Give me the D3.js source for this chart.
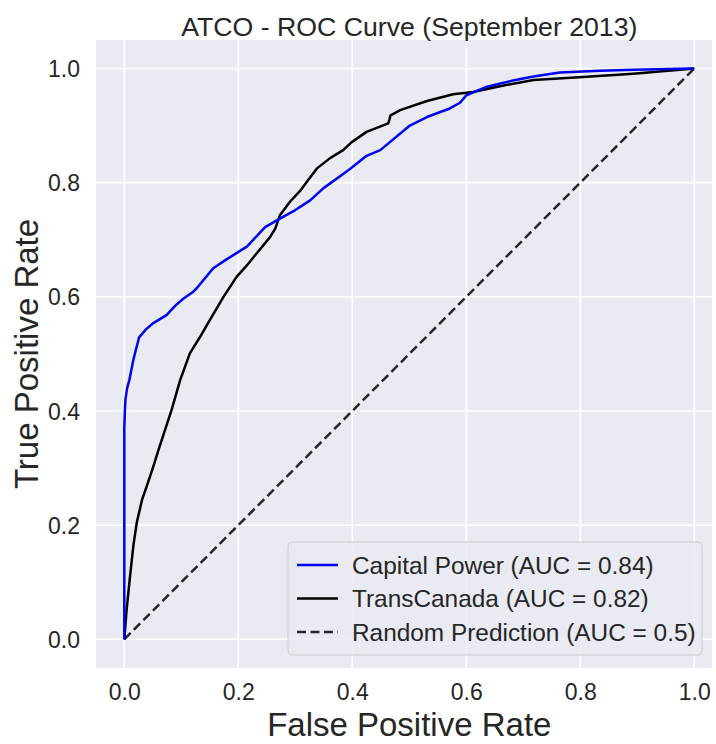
<!DOCTYPE html>
<html>
<head>
<meta charset="utf-8">
<script src="https://cdn.jsdelivr.net/npm/d3@7"></script>
<style>
  body { margin: 0; background: #fff; }
  text { font-family: "Liberation Sans", Arial, sans-serif; fill: #262626; }
</style>
</head>
<body>
<div class="chart"></div>
<script>
// ROC curve data
var capFpr = [0, 0, 0.001, 0.002, 0.005, 0.009, 0.013, 0.016, 0.021, 0.026, 0.038, 0.051, 0.074, 0.09, 0.104, 0.121, 0.127, 0.156, 0.18, 0.215, 0.247, 0.273, 0.3, 0.326, 0.349, 0.396, 0.425, 0.449, 0.466, 0.501, 0.531, 0.571, 0.589, 0.6, 0.636, 0.682, 0.718, 0.764, 0.835, 0.893, 1.0];
var capTpr = [0, 0.37, 0.40, 0.42, 0.44, 0.455, 0.475, 0.49, 0.51, 0.529, 0.543, 0.554, 0.568, 0.585, 0.597, 0.609, 0.615, 0.65, 0.666, 0.688, 0.722, 0.737, 0.752, 0.769, 0.79, 0.824, 0.847, 0.857, 0.871, 0.9, 0.915, 0.93, 0.94, 0.953, 0.968, 0.979, 0.986, 0.993, 0.996, 0.998, 1.0];

var tcFpr = [0, 0.004, 0.01, 0.016, 0.022, 0.031, 0.04, 0.05, 0.06, 0.083, 0.098, 0.115, 0.133, 0.15, 0.174, 0.197, 0.215, 0.232, 0.256, 0.265, 0.273, 0.291, 0.308, 0.32, 0.338, 0.361, 0.384, 0.399, 0.425, 0.463, 0.465, 0.467, 0.484, 0.531, 0.577, 0.612, 0.659, 0.718, 0.805, 0.893, 1.0];
var tcTpr = [0, 0.051, 0.11, 0.165, 0.205, 0.244, 0.27, 0.30, 0.332, 0.402, 0.454, 0.501, 0.53, 0.559, 0.6, 0.635, 0.655, 0.676, 0.705, 0.72, 0.743, 0.767, 0.785, 0.801, 0.825, 0.843, 0.857, 0.871, 0.889, 0.904, 0.91, 0.918, 0.927, 0.943, 0.955, 0.959, 0.969, 0.98, 0.985, 0.991, 1.0];

var randFpr = [0, 1];
var randTpr = [0, 1];

var tickValues = [0, 0.2, 0.4, 0.6, 0.8, 1.0];
var legendLabels = ["Capital Power (AUC = 0.84)", "TransCanada (AUC = 0.82)", "Random Prediction (AUC = 0.5)"];

var svgWidth = 716;
var svgHeight = 744;

// plot area (axes box) in pixels
var plot = { left: 96, right: 712, top: 40, bottom: 668 };

var svg = d3.select(".chart").append("svg")
  .attr("width", svgWidth)
  .attr("height", svgHeight);

var xScale = d3.scaleLinear().domain([0, 1]).range([124.3, 694.3]);
var yScale = d3.scaleLinear().domain([0, 1]).range([639.3, 68.5]);

// background
svg.append("rect")
  .attr("x", plot.left)
  .attr("y", plot.top)
  .attr("width", plot.right - plot.left)
  .attr("height", plot.bottom - plot.top)
  .attr("fill", "#eaeaf2");

// grid lines
svg.append("g").selectAll("line")
  .data(tickValues)
  .enter()
  .append("line")
  .attr("x1", d => xScale(d)).attr("x2", d => xScale(d))
  .attr("y1", plot.top).attr("y2", plot.bottom)
  .attr("stroke", "#fff").attr("stroke-width", 1.6);

svg.append("g").selectAll("line")
  .data(tickValues)
  .enter()
  .append("line")
  .attr("y1", d => yScale(d)).attr("y2", d => yScale(d))
  .attr("x1", plot.left).attr("x2", plot.right)
  .attr("stroke", "#fff").attr("stroke-width", 1.6);

// axes (no domain line, no tick marks)
var bottomAxis = d3.axisBottom(xScale).tickValues(tickValues).tickFormat(d3.format(".1f")).tickSize(0).tickPadding(0);
var leftAxis = d3.axisLeft(yScale).tickValues(tickValues).tickFormat(d3.format(".1f")).tickSize(0).tickPadding(0);

var xAxisG = svg.append("g")
  .attr("transform", `translate(0, ${plot.bottom})`)
  .call(bottomAxis);
xAxisG.select(".domain").remove();
xAxisG.selectAll("text")
  .attr("y", 32).attr("dy", null)
  .style("font-size", "23px")
  .style("font-family", "Liberation Sans, Arial, sans-serif")
  .attr("fill", "#262626");

var yAxisG = svg.append("g")
  .attr("transform", `translate(${plot.left}, 0)`)
  .call(leftAxis);
yAxisG.select(".domain").remove();
yAxisG.selectAll("text")
  .attr("x", -16).attr("dy", "0.35em")
  .style("font-size", "23px")
  .style("font-family", "Liberation Sans, Arial, sans-serif")
  .attr("fill", "#262626");

// curves
var line = d3.line()
  .x(d => xScale(d[0]))
  .y(d => yScale(d[1]));

var series = [
  { fpr: capFpr, tpr: capTpr, color: "#0000f0", dash: null },
  { fpr: tcFpr, tpr: tcTpr, color: "#000", dash: null },
  { fpr: randFpr, tpr: randTpr, color: "#262626", dash: "9,4.5" }
];

svg.append("g").selectAll("path")
  .data(series.slice().reverse())
  .enter()
  .append("path")
  .attr("d", d => line(d3.zip(d.fpr, d.tpr)))
  .attr("fill", "none")
  .attr("stroke", d => d.color)
  .attr("stroke-width", 2.5)
  .attr("stroke-linejoin", "round")
  .attr("stroke-dasharray", d => d.dash);

// legend
var legend = svg.append("g");
legend.append("rect")
  .attr("x", 288).attr("y", 542)
  .attr("width", 414).attr("height", 113)
  .attr("rx", 4)
  .attr("fill", "#eaeaf2").attr("fill-opacity", 0.8)
  .attr("stroke", "#cccccc").attr("stroke-width", 1);

var rows = legend.selectAll("g.row")
  .data(series)
  .enter()
  .append("g")
  .attr("class", "row")
  .attr("transform", (d, i) => `translate(0, ${565 + i * 33.5})`);

rows.append("line")
  .attr("x1", 297).attr("x2", 338)
  .attr("stroke", d => d.color)
  .attr("stroke-width", 2.5)
  .attr("stroke-dasharray", d => d.dash);

rows.append("text")
  .attr("x", 352)
  .attr("dy", "0.35em")
  .style("font-size", "24.4px")
  .text((d, i) => legendLabels[i]);

// title and axis labels
svg.append("text")
  .attr("x", 409.3).attr("y", 36)
  .attr("text-anchor", "middle")
  .style("font-size", "26.7px")
  .text("ATCO - ROC Curve (September 2013)");

svg.append("text")
  .attr("x", 409.3).attr("y", 736)
  .attr("text-anchor", "middle")
  .style("font-size", "33px")
  .text("False Positive Rate");

svg.append("text")
  .attr("transform", "translate(38, 354) rotate(-90)")
  .attr("text-anchor", "middle")
  .style("font-size", "33px")
  .text("True Positive Rate");
</script>
</body>
</html>
